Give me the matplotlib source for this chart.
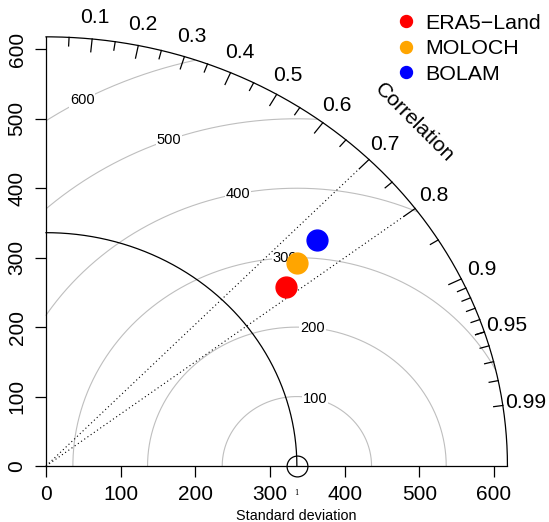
import numpy as np
import matplotlib
matplotlib.use("Agg")
import matplotlib.pyplot as plt
from matplotlib.lines import Line2D

plt.rcParams['font.family'] = ['Liberation Sans', 'DejaVu Sans']

# data
models = ['ERA5\u2212Land', 'MOLOCH', 'BOLAM']
colors = ['#FF0000', '#FFA500', '#0000FF']
model_sd = [412.1, 445.8, 487.9]
model_corr = [0.781, 0.754, 0.745]
ref_sd = 336
max_sd = 618
gammas = [100, 200, 300, 400, 500, 600]
gamma_lab_angle = [76, 84, 93, 101.4, 110, 118.6]   # degrees, around ref point
corr_lines = [0.7, 0.8]
corr_labels = [0.1, 0.2, 0.3, 0.4, 0.5, 0.6, 0.7, 0.8, 0.9, 0.95, 0.99]
sd_ticks = [0, 100, 200, 300, 400, 500, 600]

fig = plt.figure(figsize=(5.49, 5.22), dpi=100)
ax = fig.add_axes([0.0502, 0.0744, 0.9077, 0.8879])
ax.set_xlim(-24.7, 642.7)
ax.set_ylim(-24.7, 642.7)

th = np.linspace(0, np.pi / 2, 400)

# RMS difference contours
for g, ang in zip(gammas, gamma_lab_angle):
    t = np.linspace(0, np.pi, 800)
    x = ref_sd + g * np.cos(t)
    y = g * np.sin(t)
    keep = (np.hypot(x, y) <= max_sd) & (x >= 0)
    x = np.where(keep, x, np.nan)
    y = np.where(keep, y, np.nan)
    ax.plot(x, y, color='#BEBEBE', lw=0.8, zorder=1)
    a = np.radians(ang)
    ax.text(ref_sd + g * np.cos(a), g * np.sin(a), str(g), fontsize=10.5,
            ha='center', va='center', zorder=2,
            bbox=dict(facecolor='white', edgecolor='none', pad=0.5))

# reference sd arc and outer arc
ax.plot(ref_sd * np.cos(th), ref_sd * np.sin(th), color='black', lw=0.9, zorder=3)
ax.plot(max_sd * np.cos(th), max_sd * np.sin(th), color='black', lw=0.9, zorder=3)

# correlation lines
for c in corr_lines:
    s = np.sqrt(1 - c ** 2)
    ax.plot([0, 0.97 * max_sd * c], [0, 0.97 * max_sd * s], color='black',
            lw=0.8, ls=(0, (1, 2.5)), zorder=3)

# correlation ticks
big = np.arange(0.1, 0.95, 0.1)
med = np.arange(0.05, 0.96, 0.1)
sml = np.arange(0.91, 0.995, 0.01)
for vals, ln in [(big, 0.97), (med, 0.98), (sml, 0.98)]:
    a = np.arccos(vals)
    for ai in a:
        ax.plot([max_sd * np.cos(ai), ln * max_sd * np.cos(ai)],
                [max_sd * np.sin(ai), ln * max_sd * np.sin(ai)],
                color='black', lw=0.9, zorder=3, clip_on=False)
for c in corr_labels:
    a = np.arccos(c)
    ax.text(1.05 * max_sd * np.cos(a), 1.05 * max_sd * np.sin(a), f'{c:g}',
            fontsize=15.2, ha='center', va='center', clip_on=False)
ax.text(1.13 * max_sd * np.cos(np.pi / 4), 1.13 * max_sd * np.sin(np.pi / 4),
        'Correlation', fontsize=15.2, rotation=-45, ha='center', va='center',
        rotation_mode='anchor')

# reference point
ax.plot([ref_sd], [0], 'o', ms=15, mfc='none', mec='black', mew=0.9,
        clip_on=False, zorder=5)
ax.text(ref_sd, -39, '1', fontsize=5, ha='center', va='center', family='DejaVu Serif')

# model points
for sd, c, col in zip(model_sd, model_corr, colors):
    ax.plot(sd * c, sd * np.sqrt(1 - c ** 2), 'o', ms=15, color=col, zorder=6)

# axes
for side in ['top', 'right']:
    ax.spines[side].set_visible(False)
ax.spines['bottom'].set_position(('data', 0))
ax.spines['left'].set_position(('data', 0))
ax.spines['bottom'].set_bounds(0, max_sd)
ax.spines['left'].set_bounds(0, max_sd)
for side in ['bottom', 'left']:
    ax.spines[side].set_linewidth(0.9)
ax.set_xticks(sd_ticks)
ax.set_yticks(sd_ticks)
ax.tick_params(length=8, width=0.9, labelsize=15, pad=6)
ax.tick_params(axis='y', labelrotation=90)
for lab in ax.get_yticklabels():
    lab.set_va('center')
ax.text(335, -72, 'Standard deviation', fontsize=10.4, ha='center', va='center',
        clip_on=False)

handles = [Line2D([], [], ls='none', marker='o', ms=8.6, color=col) for col in colors]
fig.legend(handles, models, loc='upper left', bbox_to_anchor=(390.7 / 549, 1 - 9.7 / 522),
           frameon=False, fontsize=15.4, handlelength=1.0, handletextpad=0.4,
           labelspacing=0.30, borderpad=0.2, borderaxespad=0)

fig.savefig('out.png', dpi=100)
